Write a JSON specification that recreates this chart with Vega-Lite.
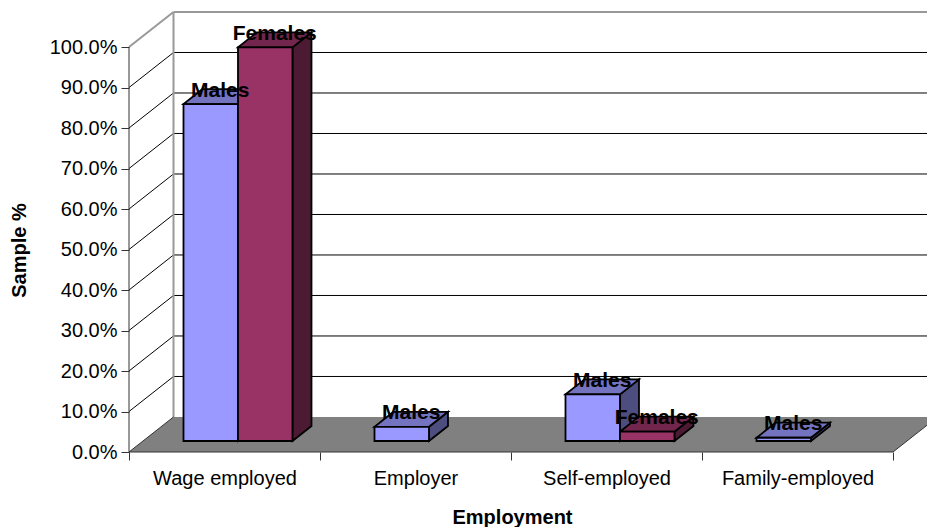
{
  "$schema": "https://vega.github.io/schema/vega-lite/v6.json",
  "width": 798,
  "height": 440,
  "autosize": {"type": "none"},
  "padding": {"left": 129, "top": 12, "right": 0, "bottom": 75},
  "background": "white",
  "config": {"view": {"stroke": null}, "font": "Liberation Sans"},
  "params": [
    {"name": "wallX", "value": 0.233},
    {"name": "wallY", "value": 0.0865},
    {"name": "xEnd", "value": 4.178},
    {"name": "barW", "value": 0.2853},
    {"name": "gap", "value": 0.2853},
    {"name": "depthX", "value": 0.0995},
    {"name": "depthY", "value": 0.0371},
    {"name": "base", "value": 0.0272}
  ],
  "datasets": {
    "bars": [
      {"category": "Wage employed", "index": 0, "series": "Males", "value": 0.832},
      {"category": "Wage employed", "index": 0, "series": "Females", "value": 0.972},
      {"category": "Employer", "index": 1, "series": "Males", "value": 0.035},
      {"category": "Self-employed", "index": 2, "series": "Males", "value": 0.115},
      {"category": "Self-employed", "index": 2, "series": "Females", "value": 0.023},
      {"category": "Family-employed", "index": 3, "series": "Males", "value": 0.008}
    ],
    "levels": [
      {"level": 0.1}, {"level": 0.2}, {"level": 0.3}, {"level": 0.4}, {"level": 0.5},
      {"level": 0.6}, {"level": 0.7}, {"level": 0.8}, {"level": 0.9}
    ],
    "floor": [{"edge": 0}, {"edge": 1}],
    "one": [{"level": 1}],
    "zero": [{"level": 0}]
  },
  "encoding": {
    "x": {
      "field": "x",
      "type": "quantitative",
      "stack": null,
      "scale": {"domain": [0, 4.178], "nice": false, "zero": false},
      "axis": {
        "title": "Employment",
        "titleFont": "Liberation Sans",
        "titleFontSize": 20,
        "titleFontWeight": "bold",
        "titleColor": "black",
        "titleX": 383,
        "titleY": 55,
        "grid": false,
        "domain": false,
        "values": [0, 1, 2, 3, 4],
        "tickSize": 8,
        "tickColor": "#333333",
        "labelExpr": "['Wage employed','Employer','Self-employed','Family-employed',''][datum.value]",
        "labelOffset": 95.5,
        "labelPadding": 8,
        "labelFontSize": 20,
        "labelColor": "black",
        "labelFlush": false,
        "labelBound": false,
        "labelOverlap": false
      }
    },
    "y": {
      "field": "y",
      "type": "quantitative",
      "stack": null,
      "scale": {"domain": [0, 1.0865], "nice": false, "zero": false},
      "axis": {
        "title": "Sample %",
        "titleFont": "Liberation Sans",
        "titleFontSize": 20,
        "titleFontWeight": "bold",
        "titleColor": "black",
        "titleX": -100,
        "titleY": 238,
        "grid": false,
        "domain": false,
        "values": [0, 0.1, 0.2, 0.3, 0.4, 0.5, 0.6, 0.7, 0.8, 0.9, 1],
        "format": ".1%",
        "tickSize": 8,
        "tickColor": "#333333",
        "labelPadding": 4,
        "labelFontSize": 20,
        "labelColor": "black",
        "labelOverlap": false,
        "labelBound": false,
        "labelFlush": false
      }
    }
  },
  "layer": [
    {
      "description": "Grey floor of the box",
      "data": {"name": "floor"},
      "transform": [
        {"calculate": "datum.edge * wallX", "as": "x"},
        {"calculate": "4 + datum.edge * wallX", "as": "x2"},
        {"calculate": "datum.edge * wallY", "as": "y"}
      ],
      "mark": {"type": "area", "orient": "horizontal", "fill": "#808080", "clip": true},
      "encoding": {"x2": {"field": "x2"}}
    },
    {
      "description": "Gridlines across the back wall",
      "data": {"name": "levels"},
      "transform": [
        {"calculate": "wallX", "as": "x"},
        {"calculate": "xEnd", "as": "x2"},
        {"calculate": "datum.level + wallY", "as": "y"},
        {"calculate": "datum.level + wallY", "as": "y2"}
      ],
      "mark": {"type": "rule", "color": "black", "strokeWidth": 1},
      "encoding": {"x2": {"field": "x2"}, "y2": {"field": "y2"}}
    },
    {
      "description": "Gridlines down the side wall",
      "data": {"name": "levels"},
      "transform": [
        {"calculate": "0", "as": "x"},
        {"calculate": "wallX", "as": "x2"},
        {"calculate": "datum.level", "as": "y"},
        {"calculate": "datum.level + wallY", "as": "y2"}
      ],
      "mark": {"type": "rule", "color": "black", "strokeWidth": 1},
      "encoding": {"x2": {"field": "x2"}, "y2": {"field": "y2"}}
    },
    {
      "description": "Grey frame: corner post",
      "data": {"name": "one"},
      "transform": [
        {"calculate": "wallX", "as": "x"},
        {"calculate": "wallY", "as": "y"},
        {"calculate": "datum.level + wallY", "as": "y2"}
      ],
      "mark": {"type": "rule", "color": "#999999", "strokeWidth": 2},
      "encoding": {"y2": {"field": "y2"}}
    },
    {
      "description": "Grey frame: top of the back wall",
      "data": {"name": "one"},
      "transform": [
        {"calculate": "wallX", "as": "x"},
        {"calculate": "xEnd", "as": "x2"},
        {"calculate": "datum.level + wallY", "as": "y"}
      ],
      "mark": {"type": "rule", "color": "#999999", "strokeWidth": 2},
      "encoding": {"x2": {"field": "x2"}}
    },
    {
      "description": "Grey frame: top of the side wall",
      "data": {"name": "one"},
      "transform": [
        {"calculate": "0", "as": "x"},
        {"calculate": "wallX", "as": "x2"},
        {"calculate": "datum.level", "as": "y"},
        {"calculate": "datum.level + wallY", "as": "y2"}
      ],
      "mark": {"type": "rule", "color": "#999999", "strokeWidth": 2},
      "encoding": {"x2": {"field": "x2"}, "y2": {"field": "y2"}}
    },
    {
      "description": "Value axis line",
      "data": {"name": "one"},
      "transform": [
        {"calculate": "0", "as": "x"},
        {"calculate": "0", "as": "y"},
        {"calculate": "datum.level", "as": "y2"}
      ],
      "mark": {"type": "rule", "color": "#333333", "strokeWidth": 1},
      "encoding": {"y2": {"field": "y2"}}
    },
    {
      "description": "Category axis line",
      "data": {"name": "zero"},
      "transform": [
        {"calculate": "0", "as": "x"},
        {"calculate": "4", "as": "x2"},
        {"calculate": "0", "as": "y"}
      ],
      "mark": {"type": "rule", "color": "#333333", "strokeWidth": 1},
      "encoding": {"x2": {"field": "x2"}}
    },
    {
      "description": "Left edge of the floor",
      "data": {"name": "zero"},
      "transform": [
        {"calculate": "0", "as": "x"},
        {"calculate": "wallX", "as": "x2"},
        {"calculate": "0", "as": "y"},
        {"calculate": "wallY", "as": "y2"}
      ],
      "mark": {"type": "rule", "color": "#333333", "strokeWidth": 1},
      "encoding": {"x2": {"field": "x2"}, "y2": {"field": "y2"}}
    },
    {
      "description": "Right edge of the floor",
      "data": {"name": "zero"},
      "transform": [
        {"calculate": "4", "as": "x"},
        {"calculate": "4 + wallX", "as": "x2"},
        {"calculate": "0", "as": "y"},
        {"calculate": "wallY", "as": "y2"}
      ],
      "mark": {"type": "rule", "color": "#333333", "strokeWidth": 1, "clip": true},
      "encoding": {"x2": {"field": "x2"}, "y2": {"field": "y2"}}
    },
    {
      "description": "Side faces of the bars",
      "data": {"name": "bars"},
      "transform": [
        {"calculate": "[0, 1]", "as": "edge"},
        {"flatten": ["edge"]},
        {"calculate": "datum.index + gap + (datum.series === 'Females' ? barW : 0) + barW", "as": "right"},
        {"calculate": "datum.right + datum.edge * depthX", "as": "x"},
        {"calculate": "base + datum.edge * depthY", "as": "y"},
        {"calculate": "base + datum.value + datum.edge * depthY", "as": "y2"},
        {"calculate": "datum.category + datum.series", "as": "bar"},
        {"calculate": "datum.series + ' side'", "as": "face"}
      ],
      "mark": {"type": "area", "stroke": "black", "strokeWidth": 1.8, "strokeJoin": "miter"},
      "encoding": {
        "y2": {"field": "y2"},
        "detail": {"field": "bar"},
        "fill": {
          "field": "face",
          "scale": {
            "domain": ["Males side", "Females side", "Males top", "Females top", "Males front", "Females front"],
            "range": ["#4D4D80", "#4D1A33", "#7373BF", "#73264D", "#9999FF", "#993366"]
          },
          "legend": null
        }
      }
    },
    {
      "description": "Top faces of the bars",
      "data": {"name": "bars"},
      "transform": [
        {"calculate": "[0, 1]", "as": "edge"},
        {"flatten": ["edge"]},
        {"calculate": "datum.index + gap + (datum.series === 'Females' ? barW : 0)", "as": "left"},
        {"calculate": "datum.left + datum.edge * depthX", "as": "x"},
        {"calculate": "datum.left + barW + datum.edge * depthX", "as": "x2"},
        {"calculate": "base + datum.value + datum.edge * depthY", "as": "y"},
        {"calculate": "datum.category + datum.series", "as": "bar"},
        {"calculate": "datum.series + ' top'", "as": "face"}
      ],
      "mark": {"type": "area", "orient": "horizontal", "stroke": "black", "strokeWidth": 1.8, "strokeJoin": "miter"},
      "encoding": {
        "x2": {"field": "x2"},
        "detail": {"field": "bar"},
        "fill": {"field": "face", "legend": null}
      }
    },
    {
      "description": "Front faces of the bars",
      "data": {"name": "bars"},
      "transform": [
        {"calculate": "datum.index + gap + (datum.series === 'Females' ? barW : 0)", "as": "x"},
        {"calculate": "datum.x + barW", "as": "x2"},
        {"calculate": "base", "as": "y"},
        {"calculate": "base + datum.value", "as": "y2"},
        {"calculate": "datum.series + ' front'", "as": "face"}
      ],
      "mark": {"type": "rect", "stroke": "black", "strokeWidth": 1.8},
      "encoding": {
        "x2": {"field": "x2"},
        "y2": {"field": "y2"},
        "fill": {"field": "face", "legend": null}
      }
    },
    {
      "description": "Series name above each bar",
      "data": {"name": "bars"},
      "transform": [
        {"calculate": "datum.index + gap + (datum.series === 'Females' ? barW : 0) + barW / 2 + depthX / 2", "as": "x"},
        {"calculate": "base + datum.value + depthY / 2", "as": "y"}
      ],
      "mark": {"type": "text", "font": "Liberation Sans", "fontWeight": "bold", "fontSize": 21, "color": "black", "baseline": "middle", "dy": -6},
      "encoding": {"text": {"field": "series"}}
    }
  ]
}
